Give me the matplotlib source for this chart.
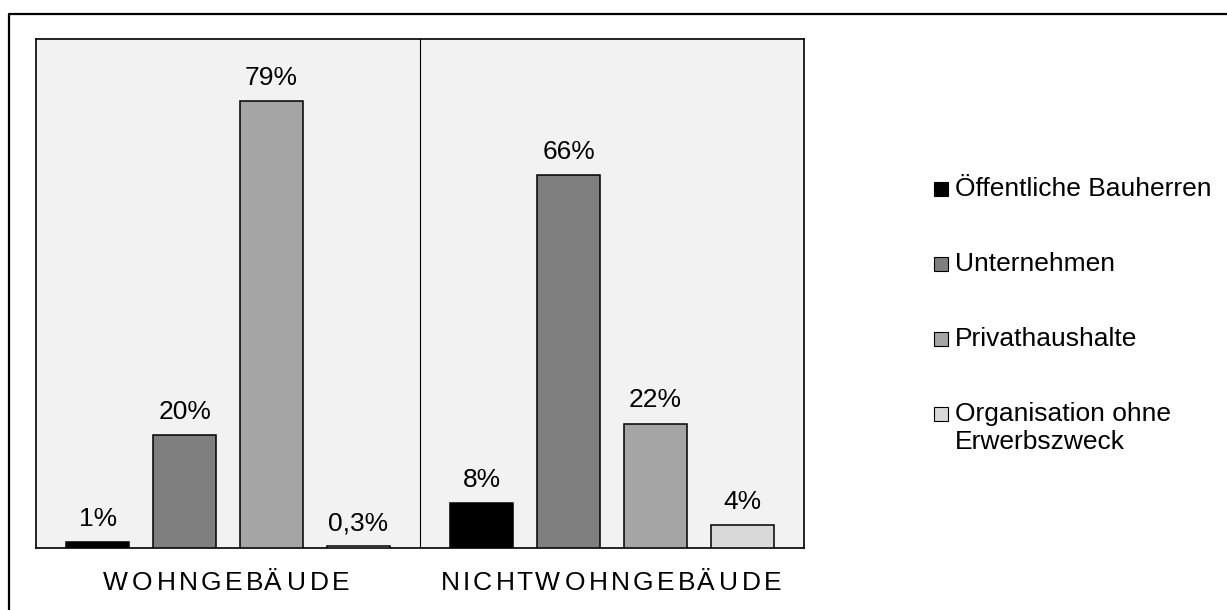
import numpy as np
import matplotlib
matplotlib.use("Agg")
import matplotlib.pyplot as plt
from matplotlib.lines import Line2D
from matplotlib.patches import Rectangle
from matplotlib.font_manager import FontProperties, findfont, get_font

plt.rcParams['font.family'] = ['Liberation Sans', 'DejaVu Sans']

gruppen = ['WOHNGEBÄUDE', 'NICHTWOHNGEBÄUDE']
bauherren = ['Öffentliche Bauherren', 'Unternehmen', 'Privathaushalte',
             'Organisation ohne\nErwerbszweck']
wohn = [1, 20, 79, 0.3]
nichtwohn = [8, 66, 22, 4]
text_wohn = ['1%', '20%', '79%', '0,3%']
text_nichtwohn = ['8%', '66%', '22%', '4%']
farben = ['#000000', '#7f7f7f', '#a5a5a5', '#d9d9d9']

W, H = 1227, 610
GR = 19  # Schriftgroesse

fig = plt.figure(figsize=(W / 100, H / 100), dpi=100)
ax = fig.add_axes([36 / W, 1 - 548 / H, (804 - 36) / W, (548 - 39) / H])
ax.set_facecolor('#f2f2f2')

breite = 4.43
for g, (werte, texte) in enumerate(zip([wohn, nichtwohn], [text_wohn, text_nichtwohn])):
    x = g * breite + 0.715 + np.arange(len(werte))
    bars = ax.bar(x, werte, width=0.727, color=farben, edgecolor='black',
                  linewidth=1.1, zorder=3)
    for b, t in zip(bars, texte):
        ax.annotate(t, (b.get_x() + b.get_width() / 2, b.get_height()),
                    xytext=(0, 8), textcoords='offset points',
                    ha='center', va='bottom', fontsize=GR)

ax.axvline(breite, color='black', lw=0.8)
ax.set_xlim(0, 2 * breite)
ax.set_ylim(0, 90)
ax.set_xticks([])
ax.set_yticks([])
for s in ax.spines.values():
    s.set_linewidth(1.2)

# gesperrte Gruppenbeschriftung, Buchstabe fuer Buchstabe
fp = FontProperties(family='Liberation Sans', size=GR)
font = get_font(findfont(fp))
font.set_size(GR, 100)


def gesperrt(text, xmitte, y, abstand=3.2):
    glyphen = [font.load_char(ord(c)) for c in text]
    vorschub = [gl.linearHoriAdvance / 65536 for gl in glyphen]
    gesamt = sum(vorschub) + abstand * (len(text) - 1)
    xp = xmitte - gesamt / 2
    for c, gl, v in zip(text, glyphen, vorschub):
        fig.text((xp + gl.horiBearingX / 64) / W, 1 - y / H, c,
                 fontsize=GR, ha='left', va='baseline')
        xp += v + abstand


for g, name in enumerate(gruppen):
    xm = ax.transData.transform((g * breite + breite / 2, 0))[0]
    gesperrt(name, xm - 3, 590)

# Legende rechts: Kaestchen + Text, Zeilenabstand 75 px
for i, (name, f) in enumerate(zip(bauherren, farben)):
    basis = 196 + 75 * i
    fig.add_artist(Rectangle((934 / W, 1 - basis / H), 14 / W, 14 / H,
                             transform=fig.transFigure, facecolor=f,
                             edgecolor='black', linewidth=0.8))
    # bei zweizeiligem Text liegt die Grundlinie der letzten Zeile tiefer
    letzte = basis + 28 * name.count('\n')
    fig.text(955 / W, 1 - letzte / H, name, fontsize=GR, ha='left',
             va='baseline', linespacing=1.22)

# Rahmen um die Grafik (oben und links)
fig.add_artist(Line2D([9 / W, 9 / W, 1], [0, 1 - 14 / H, 1 - 14 / H],
                      transform=fig.transFigure, color='black', lw=1.6))

fig.savefig('out.png', dpi=100)
